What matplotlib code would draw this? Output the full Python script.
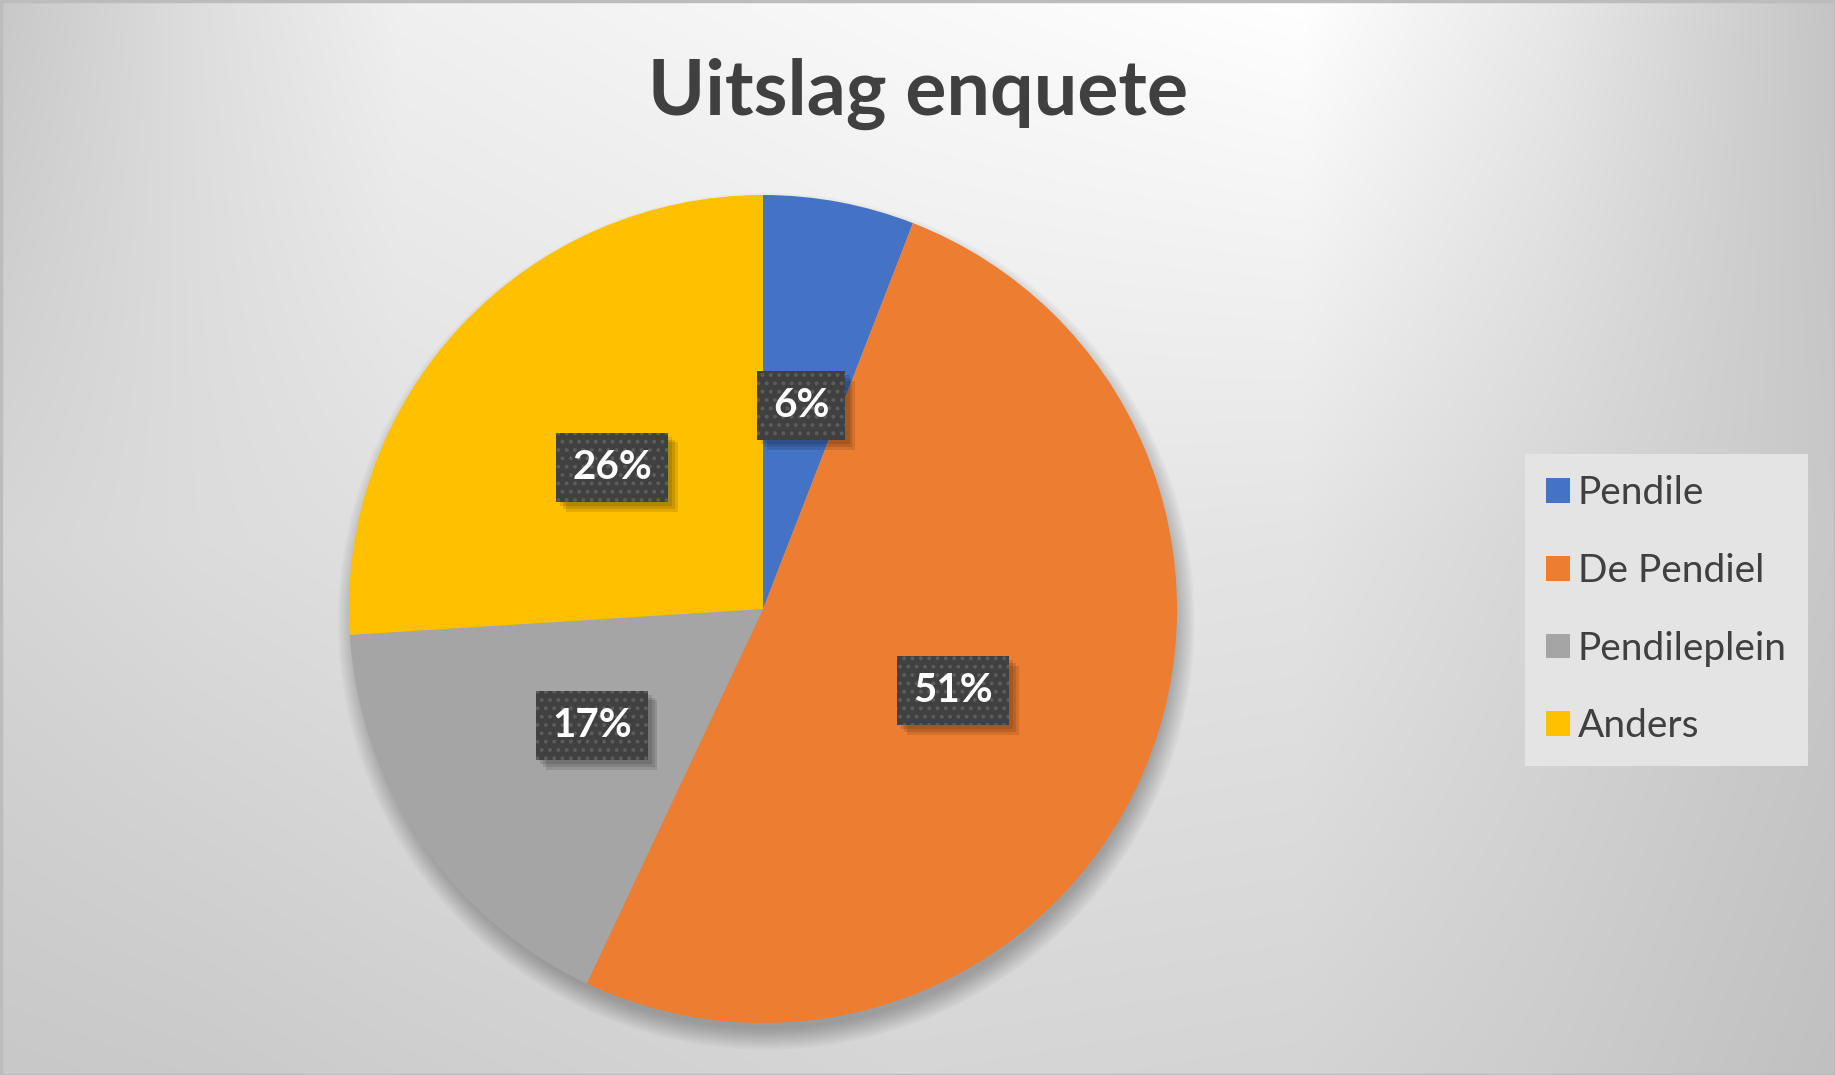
import numpy as np
import matplotlib
matplotlib.use('Agg')
import matplotlib.pyplot as plt
import matplotlib.patheffects as pe
from matplotlib.patches import Circle, Rectangle

# data
labels = ['Pendile', 'De Pendiel', 'Pendileplein', 'Anders']
values = [5.9, 51.1, 17.0, 26.0]
colors = ['#4472C4', '#ED7D31', '#A5A5A5', '#FFC000']
title = 'Uitslag enquete'

plt.rcParams['hatch.linewidth'] = 1.6

W, H = 1835, 1075
fig = plt.figure(figsize=(W / 100, H / 100), dpi=100)

# background gradient, rough grey levels sampled from the original
gx = [0, 200, 400, 900, 1300, 1550, 1835]
gy = [0, 540, 1075]
gv = np.array([[200, 222, 240, 249, 255, 232, 196],
               [214, 220, 224, 230, 228, 214, 200],
               [200, 202, 206, 214, 212, 204, 192]], dtype=float)
rows = np.array([np.interp(np.arange(H), gy, gv[:, j]) for j in range(len(gx))]).T
g = np.array([np.interp(np.arange(W), gx, rows[i]) for i in range(H)]) / 255.0

bg = fig.add_axes([0, 0, 1, 1], zorder=-10)
bg.imshow(np.dstack([g, g, g]), extent=[0, W, H, 0], aspect='auto', interpolation='bilinear')
bg.add_patch(Rectangle((0.5, 0.5), W - 1, H - 1, fill=False, ec='#bcbcbc', lw=2.5))
bg.set_xlim(0, W)
bg.set_ylim(H, 0)
bg.axis('off')

# pie axes: centre (763, 609) px, radius 414 px
cx, cy, r = 763, 609, 414
m = 1.08
ax = fig.add_axes([(cx - r * m) / W, (H - cy - r * m) / H, 2 * r * m / W, 2 * r * m / H])
ax.set_aspect('equal')
ax.axis('off')

# soft shadow under the pie
for i in range(12):
    ax.add_patch(Circle((0.008, -0.03), 0.985 + 0.0045 * i, fc='black',
                        alpha=0.022, lw=0, zorder=0))

wedges, texts, autotexts = ax.pie(
    values, colors=colors, startangle=90, counterclock=False,
    autopct=lambda p: '%.0f%%' % p, pctdistance=0.5, radius=1,
    wedgeprops=dict(linewidth=0, zorder=2),
    textprops=dict(color='white', fontsize=29, fontweight='bold', family='Lato'))
ax.set_xlim(-m, m)
ax.set_ylim(-m, m)

shadow = [pe.SimplePatchShadow(offset=(o, -o), shadow_rgbFace='black', alpha=0.11, hatch=None)
          for o in (3, 5, 7)]
for t in autotexts:
    t.set_bbox(dict(boxstyle='square,pad=0.4', fc='#404040', ec='#5c5c5c', lw=0, hatch='..'))
    t.get_bbox_patch().set_path_effects(shadow + [pe.Normal()])
    t.set_zorder(5)

fig.text(0.5, 1 - 94 / H, title, ha='center', va='center', fontsize=55.5,
         fontweight='bold', color='#404040', family='Lato')

leg = fig.legend(wedges, labels, loc='upper left', bbox_to_anchor=(1525 / W, 1 - 454 / H),
                 frameon=True, fancybox=False, handlelength=0.6,
                 handleheight=0.6, handletextpad=0.2, labelspacing=1.07,
                 borderpad=0.55, borderaxespad=0, prop=dict(family='Lato', size=28))
leg.get_frame().set_facecolor('#e4e4e4')
leg.get_frame().set_edgecolor('none')
leg.get_frame().set_alpha(1)
for t in leg.get_texts():
    t.set_color('#404040')

fig.savefig('out.png', dpi=100)
